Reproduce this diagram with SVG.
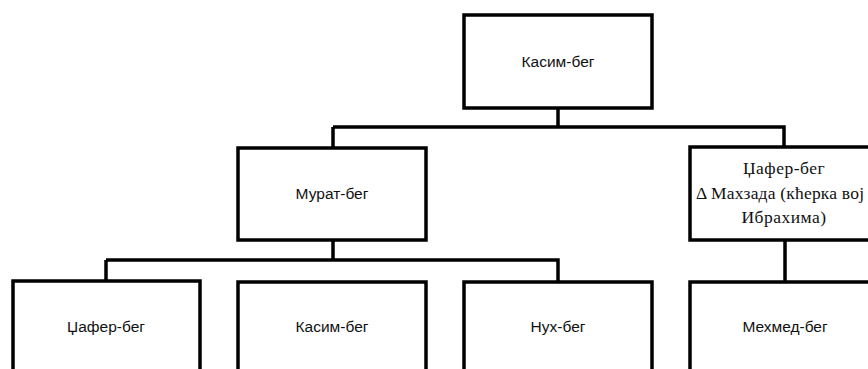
<svg xmlns="http://www.w3.org/2000/svg" width="868" height="369" viewBox="0 0 868 369">
<style>
.box{fill:#fff;stroke:#000;stroke-width:3.5}
.ln{fill:none;stroke:#000;stroke-width:3.5}
.s{font-family:"Liberation Sans",Arial,sans-serif;font-size:15.5px;fill:#111;text-anchor:middle}
.r{font-family:"Liberation Serif","Times New Roman",serif;font-size:17.5px;fill:#111;text-anchor:middle;letter-spacing:0.5px}
</style>
<rect width="868" height="369" fill="#fff"/>
<g id="connectors">
<path class="ln" d="M558 108 V127 M333 127 H784 V147 M333 127 V148"/>
<path class="ln" d="M333 240 V260 M106 260 H558 V282 M106 260 V281"/>
<path class="ln" d="M785 240 V282"/>
</g>
<g id="n1"><rect class="box" x="464" y="15" width="188" height="93"/><text class="s" x="558" y="67">Касим-бег</text></g>
<g id="n2"><rect class="box" x="238" y="148" width="188" height="92"/><text class="s" x="332" y="199">Мурат-бег</text></g>
<g id="n3"><rect class="box" x="690" y="147" width="188" height="93"/>
<text class="r" x="784" y="174">Џафер-бег</text>
<text class="r" x="696" y="199" style="text-anchor:start;letter-spacing:0" textLength="168" lengthAdjust="spacing">Δ Махзада (кћерка вој</text>
<text class="r" x="784" y="223">Ибрахима)</text></g>
<g id="n4"><rect class="box" x="13" y="281" width="187" height="110"/><text class="s" x="106" y="332">Џафер-бег</text></g>
<g id="n5"><rect class="box" x="238" y="282" width="188" height="110"/><text class="s" x="332" y="332">Касим-бег</text></g>
<g id="n6"><rect class="box" x="464" y="282" width="188" height="110"/><text class="s" x="558" y="332">Нух-бег</text></g>
<g id="n7"><rect class="box" x="690" y="282" width="188" height="110"/><text class="s" x="785" y="332">Мехмед-бег</text></g>
</svg>
